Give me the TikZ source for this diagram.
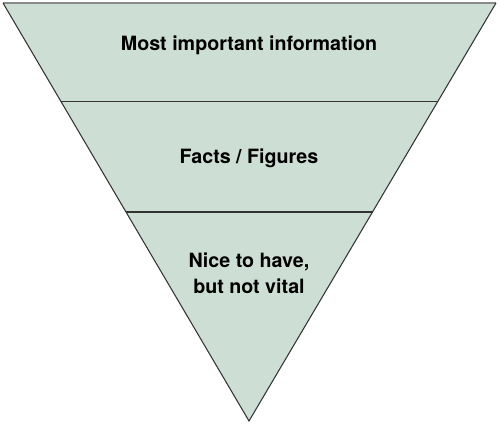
\documentclass[tikz,border=0pt]{standalone}
\usepackage{fontspec}
\setmainfont{TeX Gyre Heros}
\usepackage{xcolor}
\usepackage{tikz}
\usetikzlibrary{calc}
\definecolor{fFill}{HTML}{CDDFD5}
\definecolor{fInk}{HTML}{333333}
\definecolor{fTop}{HTML}{8A8A8A}
\tikzset{
  level/.style={font=\bfseries\fontsize{11.2}{14.6}\selectfont, text=black, align=center},
  edge/.style={draw=fInk, line width=0.6pt}
}
\begin{document}
\begin{tikzpicture}
      \useasboundingbox (0,0) rectangle (10,8.5);
      % corners of the funnel
      \coordinate (tl) at (0.06,8.44);
      \coordinate (tr) at (9.92,8.44);
      \coordinate (ap) at (4.98,0.08);
      \fill[fFill] (tl) -- (tr) -- (ap) -- cycle;
      % split lines
      \coordinate (l1) at ($(tl)!0.2368!(ap)$);
      \coordinate (r1) at ($(tr)!0.2368!(ap)$);
      \coordinate (l2) at ($(tl)!0.5!(ap)$);
      \coordinate (r2) at ($(tr)!0.5!(ap)$);
      \draw[edge] (l1) -- (r1);
      \draw[edge] (l2) -- (r2);
      \draw[fTop, line width=0.6pt] (tl) -- (tr);
      \draw[edge, line join=miter] (tr) -- (ap) -- (tl);
      % labels
      \node[level] (top) at (4.98,7.6) {Most important information};
      \node[level] (mid) at (4.98,5.34) {Facts / Figures};
      \node[level] (low) at (4.98,3.04) {Nice to have,\\but not vital};
    \end{tikzpicture}
\end{document}
